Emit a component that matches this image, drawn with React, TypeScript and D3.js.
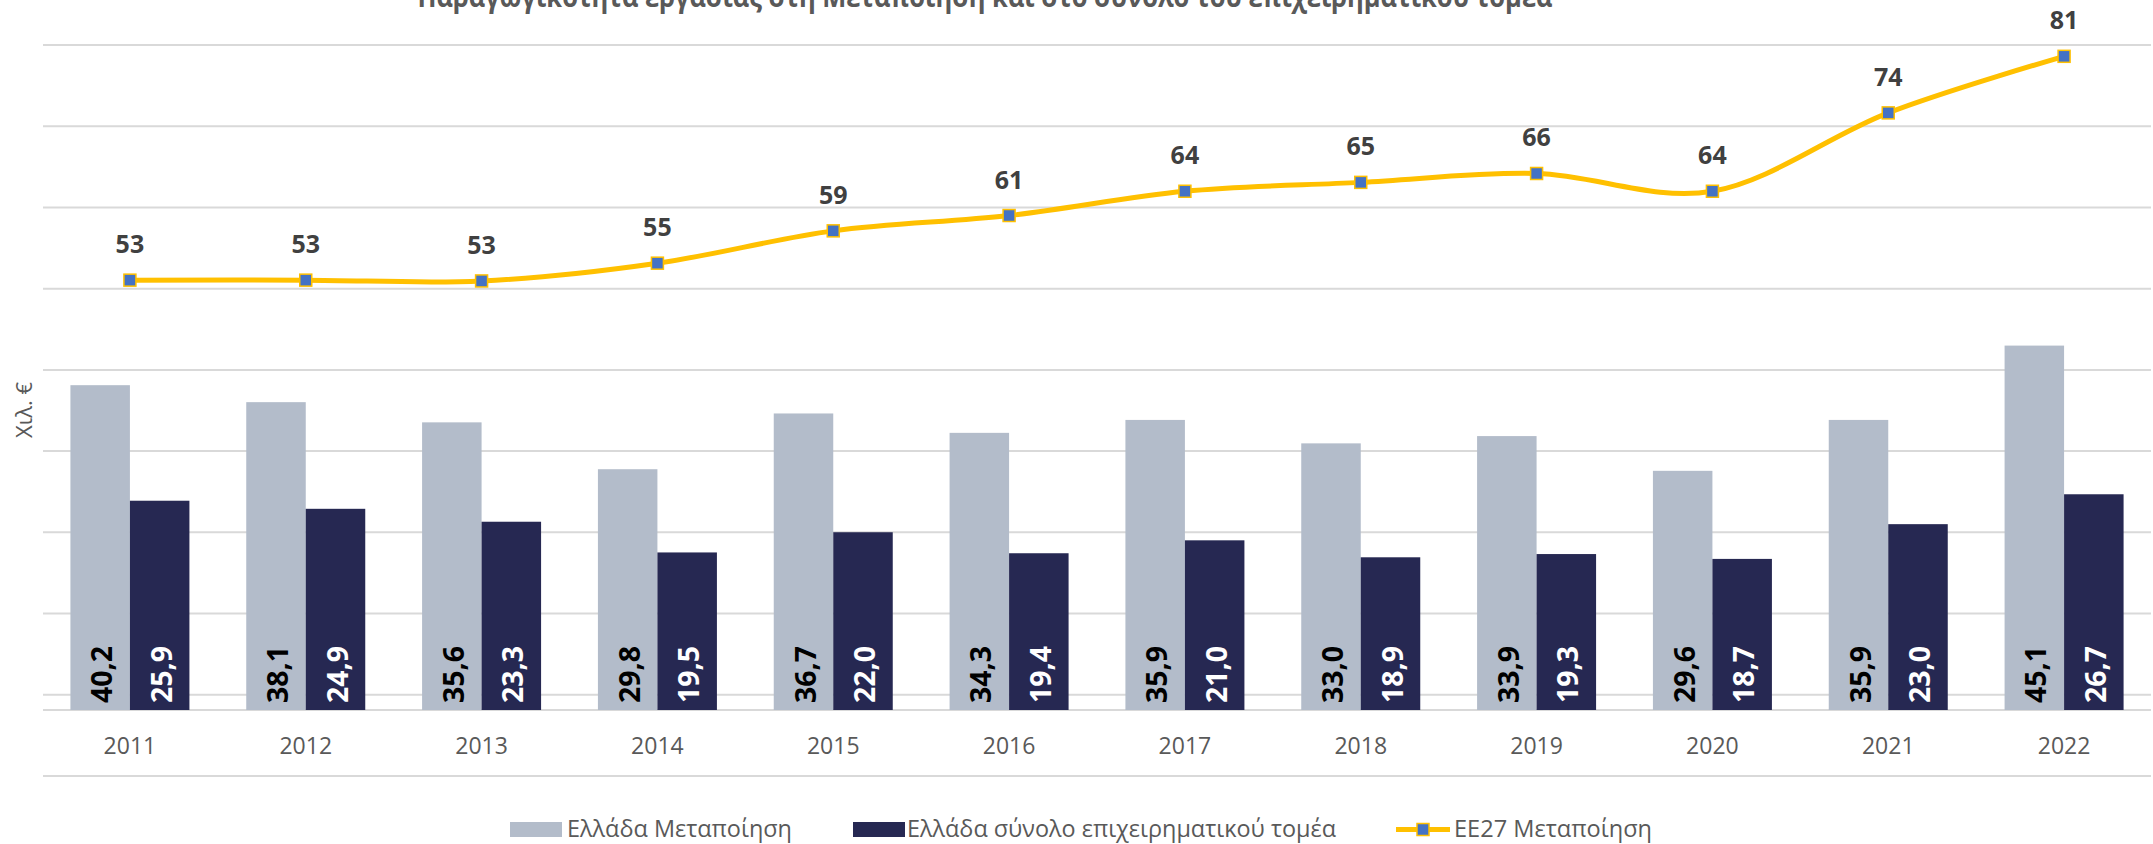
import React from "react";
import * as d3 from "d3";

const years = ["2011","2012","2013","2014","2015","2016","2017","2018","2019","2020","2021","2022"];
const greeceManufacturing = [40.2, 38.1, 35.6, 29.8, 36.7, 34.3, 35.9, 33.0, 33.9, 29.6, 35.9, 45.1];
const greeceBusiness = [25.9, 24.9, 23.3, 19.5, 22.0, 19.4, 21.0, 18.9, 19.3, 18.7, 23.0, 26.7];
const eu27Manufacturing = [53.2, 53.2, 53.1, 55.3, 59.3, 61.2, 64.2, 65.3, 66.4, 64.2, 73.9, 80.9];
const gridTicks = [0, 1, 2, 3, 4, 5, 6, 7, 8, 9];
const seriesNames = ["Ελλάδα Μεταποίηση", "Ελλάδα σύνολο επιχειρηματικού τομέα", "ΕΕ27 Μεταποίηση"];
const title = "Παραγωγικότητα εργασίας στη Μεταποίηση και στο σύνολο του επιχειρηματικού τομέα";
const yAxisTitle = "Χιλ. €";

const W = 2153, H = 844;
const FONT = "'Open Sans', 'Noto Sans', sans-serif";
const C_LIGHT = "#B3BCCA";
const C_DARK = "#262852";
const C_LINE = "#FFC000";
const C_MARK = "#4472C4";
const C_GRID = "#D9D9D9";
const C_TEXT = "#595959";

const fmt = (v: number) => v.toFixed(1).replace(".", ",");

export default function App() {
  const x = d3.scaleBand<string>().domain(years).range([42, 2152]).paddingInner(0).paddingOuter(0);
  const inner = d3.scaleBand<number>().domain([0, 1]).range([-59.5, 59.5]);
  const y = d3.scaleLinear().domain([0, 80]).range([710, 63.6]);
  const grid = d3.scaleLinear().domain([0, 9]).range([776, 45]);
  const cx = (yr: string) => (x(yr) as number) + x.bandwidth() / 2;

  const line = d3.line<number>()
    .x((_, i) => cx(years[i]))
    .y((v) => y(v))
    .curve(d3.curveCardinal.tension(0));

  const bw = inner.bandwidth();
  const barSeries = [
    { values: greeceManufacturing, color: C_LIGHT, labelColor: "#000000", idx: 0 },
    { values: greeceBusiness, color: C_DARK, labelColor: "#FFFFFF", idx: 1 },
  ];

  return (
    <svg width={W} height={H} style={{ position: "absolute", left: 0, top: 0, background: "#fff" }} fontFamily={FONT}>
      <rect x={0} y={0} width={W} height={H} fill="#fff" />
      {/* title (clipped at top as in reference) */}
      <text x={985} y={7} textAnchor="middle" fontSize={28} fontWeight={700} fill={C_TEXT}
        textLength={1135} lengthAdjust="spacingAndGlyphs">{title}</text>

      {/* gridlines */}
      {gridTicks.map((t) => (
        <line key={t} x1={43} x2={2151} y1={grid(t)} y2={grid(t)} stroke={C_GRID} strokeWidth={2} />
      ))}
      {/* category axis line */}
      <line x1={43} x2={2151} y1={y(0)} y2={y(0)} stroke={C_GRID} strokeWidth={2} />

      {/* bars */}
      {barSeries.map((s) =>
        s.values.map((v, i) => {
          const bx = cx(years[i]) + (inner(s.idx) as number);
          return (
            <rect key={`${s.idx}-${i}`} x={bx} y={y(v)} width={bw} height={y(0) - y(v)} fill={s.color} />
          );
        })
      )}
      {/* bar labels */}
      {barSeries.map((s) =>
        s.values.map((v, i) => {
          const bx = cx(years[i]) + (inner(s.idx) as number) + bw / 2 + 1;
          const by = y(0) - 7;
          return (
            <text key={`l${s.idx}-${i}`} transform={`translate(${bx},${by}) rotate(-90)`}
              textAnchor="start" dominantBaseline="central" fontSize={28.5} fontWeight={700} fill={s.labelColor}>
              {fmt(v)}
            </text>
          );
        })
      )}

      {/* line */}
      <path d={line(eu27Manufacturing) || ""} fill="none" stroke={C_LINE} strokeWidth={5} strokeLinejoin="round" />
      {eu27Manufacturing.map((v, i) => (
        <rect key={`m${i}`} x={cx(years[i]) - 6} y={y(v) - 6} width={12} height={12}
          fill={C_MARK} stroke={C_LINE} strokeWidth={1.5} />
      ))}
      {eu27Manufacturing.map((v, i) => (
        <text key={`t${i}`} x={cx(years[i])} y={y(v) - 27} textAnchor="middle" fontSize={25} fontWeight={700} fill="#404040">
          {Math.round(v)}
        </text>
      ))}

      {/* x labels */}
      {years.map((yr) => (
        <text key={yr} x={cx(yr)} y={754} textAnchor="middle" fontSize={23} fill={C_TEXT}>{yr}</text>
      ))}

      {/* y axis title */}
      <text transform={`translate(32,410) rotate(-90)`} textAnchor="middle" fontSize={22} fill={C_TEXT}>{yAxisTitle}</text>

      {/* legend */}
      <g>
        <rect x={510} y={822} width={52} height={15} fill={C_LIGHT} />
        <text x={567} y={837} fontSize={23} fill={C_TEXT} textLength={225} lengthAdjust="spacingAndGlyphs">{seriesNames[0]}</text>
        <rect x={853} y={822} width={52} height={15} fill={C_DARK} />
        <text x={907} y={837} fontSize={23} fill={C_TEXT} textLength={429} lengthAdjust="spacingAndGlyphs">{seriesNames[1]}</text>
        <line x1={1396} x2={1450} y1={829.5} y2={829.5} stroke={C_LINE} strokeWidth={5} />
        <rect x={1417} y={823.5} width={12} height={12} fill={C_MARK} stroke={C_LINE} strokeWidth={1.5} />
        <text x={1454} y={837} fontSize={23} fill={C_TEXT} textLength={198} lengthAdjust="spacingAndGlyphs">{seriesNames[2]}</text>
      </g>
    </svg>
  );
}
